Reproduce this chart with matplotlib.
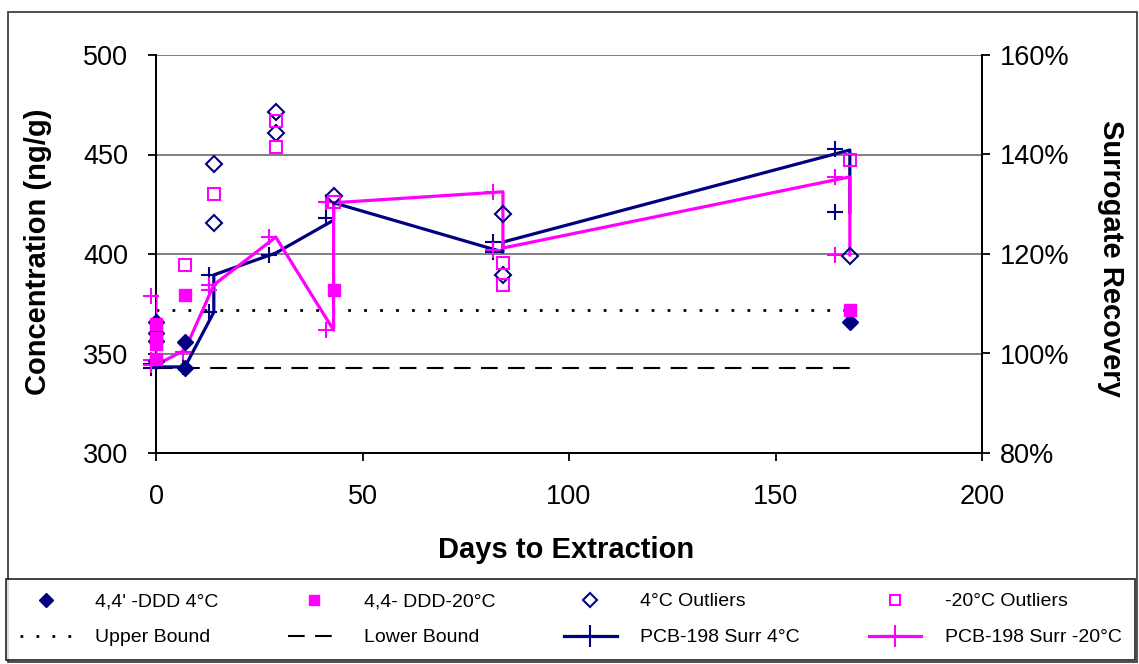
import numpy as np
import matplotlib.pyplot as plt
from matplotlib.lines import Line2D
from matplotlib.patches import Rectangle
from matplotlib.ticker import FuncFormatter

plt.rcParams['font.family'] = ['Liberation Sans', 'DejaVu Sans']

# concentration data (ng/g), left axis
ddd4_days = [0, 0, 0, 0, 7, 7, 168]
ddd4_vals = [365.8, 360.3, 356.3, 346.0, 355.8, 342.7, 365.8]
ddd20_days = [0, 0, 0, 0, 7, 43, 168]
ddd20_vals = [365.0, 358.0, 355.0, 347.0, 379.4, 382.0, 372.0]
out4_days = [14, 14, 29, 29, 43, 84, 84, 168]
out4_vals = [445.2, 415.6, 471.4, 460.8, 429.1, 420.1, 389.4, 399.0]
out20_days = [7, 14, 29, 29, 43, 84, 84, 168]
out20_vals = [394.5, 430.2, 466.8, 453.8, 426.0, 395.5, 384.4, 447.2]

# bounds
bound_days = [0, 170]
upper_bound = [372.0, 372.0]
lower_bound = [342.5, 342.5]

# surrogate recovery (%), right axis
surr4_line_days = [0, 7, 14, 14, 29, 43, 43, 84, 84, 168, 168]
surr4_line_vals = [97.3, 97.3, 108.3, 115.8, 120.2, 126.8, 130.3, 120.4, 122.4, 140.9, 128.4]
surr4_pt_days = [-1.2, -1.2, 6.5, 12.8, 12.8, 27.3, 41.1, 41.1, 81.6, 81.6, 164.3, 164.3]
surr4_pt_vals = [97.9, 97.0, 97.3, 108.4, 115.8, 119.8, 127.2, 130.5, 120.4, 122.4, 141.1, 128.4]

surr20_line_days = [0, 0, 7, 14, 29, 43, 43, 84, 84, 168, 168]
surr20_line_vals = [111.6, 97.7, 100.7, 113.8, 123.4, 104.7, 130.3, 132.5, 121.2, 135.5, 119.8]
surr20_pt_days = [-1.2, -1.2, -1.2, 6.5, 12.8, 12.8, 27.3, 41.1, 41.1, 81.6, 81.6, 164.3, 164.3]
surr20_pt_vals = [111.6, 98.7, 97.7, 100.3, 113.8, 112.8, 123.4, 104.7, 130.5, 132.5, 120.8, 135.5, 119.8]

navy = '#000080'
pink = '#FF00FF'

fig = plt.figure(figsize=(11.39, 6.64), dpi=100)
ax = fig.add_axes([156/1139, 1-453/664, 826/1139, 398/664])
ax2 = ax.twinx()

ax.set_xlim(0, 200)
ax.set_ylim(300, 500)
ax2.set_ylim(80, 160)
ax.set_xticks([0, 50, 100, 150, 200])
ax.set_yticks([300, 350, 400, 450, 500])
ax2.set_yticks([80, 100, 120, 140, 160])
ax2.yaxis.set_major_formatter(FuncFormatter(lambda v, p: '%d%%' % v))

for y in [350, 400, 450, 500]:
    ax.axhline(y, color='#808080', lw=1.4, zorder=0)

for a in (ax, ax2):
    a.spines['top'].set_visible(False)
    for s in ('left', 'right', 'bottom'):
        a.spines[s].set_linewidth(1.3)
    a.tick_params(direction='out', length=6, width=1.3, labelsize=19.5, pad=8)
ax.tick_params(axis='x', pad=16)
ax.tick_params(axis='y', pad=14)
ax2.tick_params(axis='y', pad=7)

ax.set_xlabel('Days to Extraction', fontsize=21, fontweight='bold')
ax.xaxis.set_label_coords(0.497, -0.208)
ax.set_ylabel('Concentration (ng/g)', fontsize=21, fontweight='bold')
ax.yaxis.set_label_coords(-0.126, 0.505)
ax2.set_ylabel('Surrogate Recovery', fontsize=21, fontweight='bold', rotation=270, va='center')
ax2.yaxis.set_label_coords(1.156, 0.49)

# bounds
ax.plot(bound_days, upper_bound, color='black', lw=2, linestyle=(0, (1, 4.75)))
ax.plot(bound_days, lower_bound, color='black', lw=1.5, linestyle=(0, (8, 5)))

# surrogate lines
ax2.plot(surr4_line_days, surr4_line_vals, color=navy, lw=2.3, zorder=3)
ax2.plot(surr4_pt_days, surr4_pt_vals, '+', color=navy, ms=12, mew=1.5, clip_on=False, zorder=3)
ax2.plot(surr20_line_days, surr20_line_vals, color=pink, lw=2.3, zorder=4)
ax2.plot(surr20_pt_days, surr20_pt_vals, '+', color=pink, ms=12, mew=1.5, clip_on=False, zorder=4)

# concentration points (drawn on ax2 with the left-axis transform)
tr = ax.transData
ax2.plot(ddd4_days, ddd4_vals, 'D', color=navy, ms=8, transform=tr, zorder=5, clip_on=False)
ax2.plot(ddd20_days, ddd20_vals, 's', color=pink, ms=8.5, transform=tr, zorder=5, clip_on=False)
ax2.plot(out4_days, out4_vals, 'D', mfc='none', mec=navy, mew=1.5, ms=8, transform=tr, zorder=5)
ax2.plot(out20_days, out20_vals, 's', mfc='none', mec=pink, mew=1.5, ms=8, transform=tr, zorder=5)

handles = [
    Line2D([], [], ls='none', marker='D', color=navy, ms=7),
    Line2D([], [], ls='none', marker='s', color=pink, ms=7),
    Line2D([], [], ls='none', marker='D', mfc='none', mec=navy, mew=1.5, ms=7),
    Line2D([], [], ls='none', marker='s', mfc='none', mec=pink, mew=1.5, ms=7),
    Line2D([], [], color='black', lw=2, linestyle=(0, (1, 4.75))),
    Line2D([], [], color='black', lw=1.5, linestyle=(0, (8, 5))),
    Line2D([], [], color=navy, lw=2.3, marker='+', ms=16, mew=1.5),
    Line2D([], [], color=pink, lw=2.3, marker='+', ms=16, mew=1.5),
]
labels = ["4,4' -DDD 4°C", '4,4- DDD-20°C', '4°C Outliers', '-20°C Outliers',
          'Upper Bound', 'Lower Bound', 'PCB-198 Surr 4°C', 'PCB-198 Surr -20°C']
order = [0, 4, 1, 5, 2, 6, 3, 7]
leg = fig.legend([handles[i] for i in order], [labels[i] for i in order],
                 ncol=4, loc='lower left', mode='expand',
                 bbox_to_anchor=(6/1139, 4/664, 1129/1139, 78/664),
                 fontsize=14, frameon=True, fancybox=False, edgecolor='black',
                 handlelength=2.7, handletextpad=1.2, labelspacing=0.95,
                 borderaxespad=0, borderpad=0.7)
leg.get_frame().set_linewidth(1.3)

fig.patches.append(Rectangle((8/1139, 2/664), 1129/1139, 650/664, transform=fig.transFigure,
                             fill=False, edgecolor='#404040', lw=1.3))

fig.savefig('out.png', dpi=100)
